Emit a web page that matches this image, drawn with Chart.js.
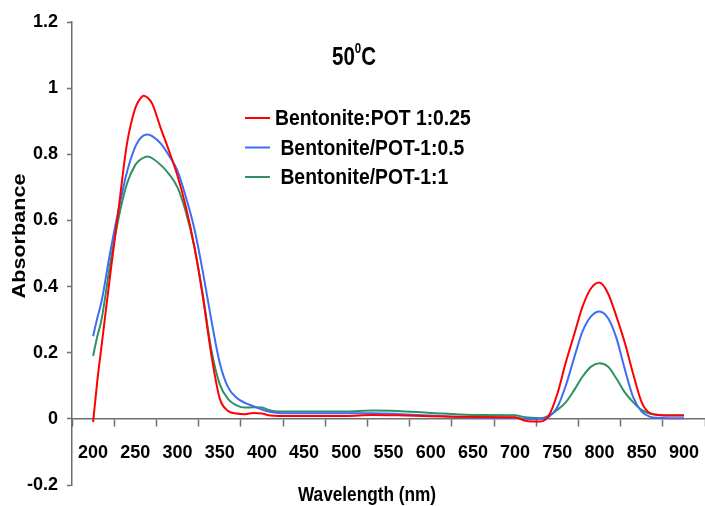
<!DOCTYPE html>
<html>
<head>
<meta charset="utf-8">
<script src="https://cdn.jsdelivr.net/npm/chart.js@4.4.1/dist/chart.umd.min.js"></script>
<style>
  body { margin: 0; background: #fff; }
  #wrap { width: 705px; height: 506px; }
</style>
</head>
<body>
<div id="wrap"><canvas id="uvChart" width="705" height="506"></canvas></div>
<script>
// wavelength (nm) shared by the three spectra
const wavelength = [200, 205, 210, 220, 230, 240, 250, 255, 260, 265, 270, 280, 290, 300, 310, 320, 330, 340, 350, 360,
  370, 380, 390, 400, 410, 420, 440, 460, 500, 530, 560, 600, 650, 700, 710, 720, 730, 740, 750, 760,
  770, 780, 790, 800, 810, 820, 830, 840, 850, 860, 870, 880, 900];

// absorbance
const pot025 = [-0.01, 0.115, 0.22, 0.43, 0.63, 0.83, 0.94, 0.965, 0.977, 0.97, 0.953, 0.88, 0.81, 0.735, 0.64, 0.52, 0.37, 0.195, 0.062, 0.024,
  0.016, 0.014, 0.018, 0.016, 0.01, 0.009, 0.009, 0.009, 0.009, 0.012, 0.011, 0.008, 0.006, 0.005, -0.004, -0.008, -0.008, 0.01, 0.075, 0.17,
  0.255, 0.34, 0.395, 0.412, 0.38, 0.31, 0.23, 0.135, 0.05, 0.017, 0.012, 0.01, 0.01];
const pot05 = [0.25, 0.305, 0.355, 0.5, 0.63, 0.745, 0.823, 0.845, 0.857, 0.86, 0.855, 0.833, 0.796, 0.75, 0.67, 0.575, 0.445, 0.3, 0.17, 0.095,
  0.064, 0.048, 0.038, 0.028, 0.021, 0.018, 0.017, 0.017, 0.017, 0.017, 0.015, 0.01, 0.004, 0.003, 0.001, -0.001, 0, 0.006, 0.035, 0.1,
  0.185, 0.265, 0.31, 0.325, 0.305, 0.245, 0.15, 0.065, 0.022, 0.006, 0.003, 0.002, 0.002];
const pot1 = [0.19, 0.25, 0.3, 0.465, 0.605, 0.71, 0.768, 0.782, 0.79, 0.793, 0.788, 0.768, 0.74, 0.7, 0.625, 0.52, 0.375, 0.21, 0.105, 0.06,
  0.041, 0.034, 0.035, 0.034, 0.025, 0.022, 0.022, 0.022, 0.022, 0.025, 0.024, 0.018, 0.012, 0.011, 0.006, 0.003, 0.002, 0.01, 0.027, 0.05,
  0.087, 0.128, 0.158, 0.168, 0.158, 0.122, 0.08, 0.05, 0.027, 0.015, 0.012, 0.011, 0.011];

const seriesNames = ['Bentonite:POT 1:0.25', ' Bentonite/POT-1:0.5', ' Bentonite/POT-1:1'];
const seriesColors = ['#ff0000', '#3d6cf5', '#2e9160'];

const xTickLabels = [200, 250, 300, 350, 400, 450, 500, 550, 600, 650, 700, 750, 800, 850, 900];
const yTickValues = [-0.2, 0, 0.2, 0.4, 0.6, 0.8, 1, 1.2];

const sans = "'Liberation Sans', Arial, sans-serif";
const axisGray = '#6e6e6e';

function points(values) {
  return wavelength.map((w, i) => ({ x: w, y: values[i] }));
}

// text squeezed sideways, the original picture is a narrowed Excel chart
function narrowText(ctx, text, x, y, sx) {
  ctx.save();
  ctx.translate(x, y);
  ctx.scale(sx, 1);
  ctx.fillText(text, 0, 0);
  const w = ctx.measureText(text).width * sx;
  ctx.restore();
  return w;
}

// title, legend and axis titles drawn on the canvas at fixed spots like the original
const extraText = {
  id: 'extraText',
  afterDraw(chart) {
    const ctx = chart.ctx;
    ctx.save();
    ctx.fillStyle = '#000';
    ctx.textAlign = 'left';
    ctx.textBaseline = 'alphabetic';
    ctx.font = 'bold 25px ' + sans;
    let x = 332;
    x += narrowText(ctx, '50', x, 65, 0.82);
    ctx.font = 'bold 14px ' + sans;
    x += narrowText(ctx, '0', x, 53, 0.82);
    ctx.font = 'bold 25px ' + sans;
    narrowText(ctx, 'C', x, 65, 0.82);

    // legend
    ctx.font = 'bold 22px ' + sans;
    ctx.textBaseline = 'middle';
    chart.data.datasets.forEach((ds, i) => {
      const y = 118 + i * 29.5;
      ctx.strokeStyle = ds.borderColor;
      ctx.lineWidth = 2;
      ctx.beginPath();
      ctx.moveTo(245, y);
      ctx.lineTo(270, y);
      ctx.stroke();
      narrowText(ctx, ds.label, 275, y + 1, 0.88);
    });

    // x axis title
    ctx.font = 'bold 21px ' + sans;
    const t = 'Wavelength (nm)';
    const tw = ctx.measureText(t).width * 0.82;
    narrowText(ctx, t, 367 - tw / 2, 495, 0.82);

    // y axis title, rotated
    ctx.font = 'bold 18px ' + sans;
    ctx.translate(20, 236);
    ctx.rotate(-Math.PI / 2);
    ctx.scale(1.2, 1);
    ctx.textAlign = 'center';
    ctx.fillText('Absorbance', 0, 0);
    ctx.restore();
  }
};

new Chart(document.getElementById('uvChart'), {
  type: 'line',
  data: {
    datasets: [pot025, pot05, pot1].map((vals, i) => ({
      label: seriesNames[i],
      data: points(vals),
      borderColor: seriesColors[i],
      backgroundColor: seriesColors[i],
      borderWidth: 2,
      pointRadius: 0,
      cubicInterpolationMode: 'monotone',
      fill: false
    }))
  },
  options: {
    responsive: false,
    animation: false,
    layout: { padding: { top: 22, bottom: 21, left: 0, right: 0 } },
    plugins: {
      legend: { display: false },
      title: { display: false },
      tooltip: { enabled: false }
    },
    scales: {
      x: {
        type: 'linear',
        min: 175,
        max: 925,
        position: { y: 0 },
        afterBuildTicks(axis) {
          const t = [];
          xTickLabels.forEach(v => { t.push({ value: v - 25 }); t.push({ value: v }); });
          t.push({ value: xTickLabels[xTickLabels.length - 1] + 25 });
          axis.ticks = t;
        },
        afterFit(axis) {
          axis.height = 0;
          axis.paddingLeft = 0;
          axis.paddingRight = 0;
        },
        grid: {
          drawOnChartArea: false,
          tickLength: 7,
          tickWidth: 1.5,
          tickColor: c => (c.tick && xTickLabels.includes(c.tick.value)) ? 'rgba(0,0,0,0)' : axisGray
        },
        border: { color: axisGray, width: 1.5 },
        ticks: {
          autoSkip: false,
          maxRotation: 0,
          padding: 16,
          color: '#000',
          font: { family: sans, size: 18, weight: 'bold' },
          callback: v => xTickLabels.includes(v) ? String(v) : ''
        }
      },
      y: {
        min: -0.2,
        max: 1.2,
        afterBuildTicks(axis) {
          axis.ticks = yTickValues.map(v => ({ value: v }));
        },
        afterFit(axis) { axis.width = 72; },
        grid: { drawOnChartArea: false, tickLength: 5, tickWidth: 1.5, tickColor: axisGray },
        border: { color: axisGray, width: 1.5 },
        ticks: {
          padding: 9,
          color: '#000',
          font: { family: sans, size: 18, weight: 'bold' },
          callback: v => String(Math.round(v * 10) / 10)
        }
      }
    }
  },
  plugins: [extraText]
});
</script>
</body>
</html>
